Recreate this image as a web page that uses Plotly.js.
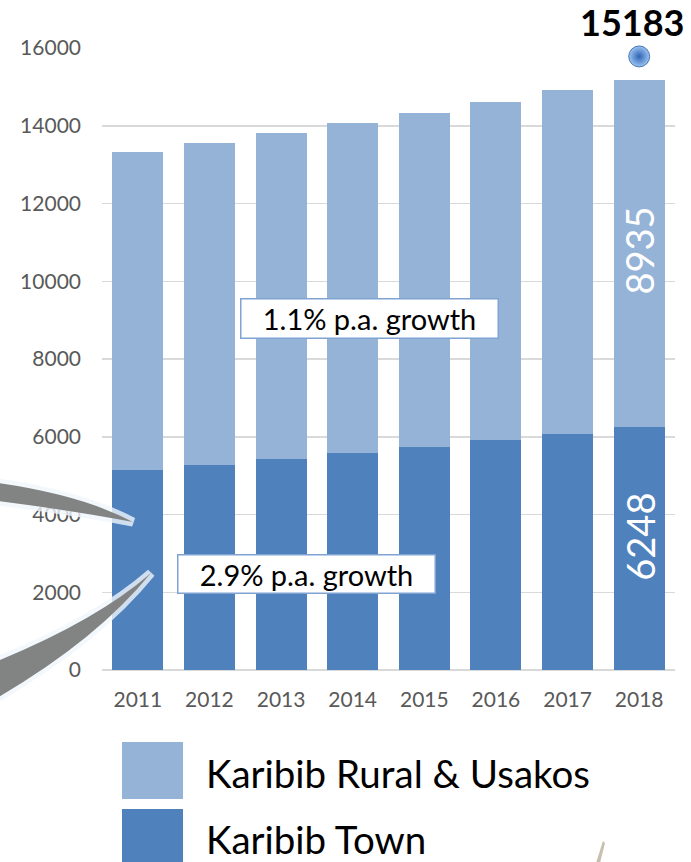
<!DOCTYPE html>
<html>
<head>
<meta charset="utf-8">
<script src="https://cdn.plot.ly/plotly-3.0.1.min.js"></script>
<style>html,body{margin:0;padding:0;background:#fff;}#chart{width:691px;height:862px;}</style>
</head>
<body>
<div id="chart"></div>
<script>
const years = ['2011', '2012', '2013', '2014', '2015', '2016', '2017', '2018'];
const townValues = [5144, 5272, 5418, 5580, 5735, 5914, 6078, 6248];
const ruralValues = [8182, 8293, 8404, 8495, 8602, 8706, 8833, 8935];
const seriesNames = ['Karibib Rural & Usakos', 'Karibib Town'];
const growthLabels = ['1.1% p.a. growth', '2.9% p.a. growth'];
const yTicks = [0, 2000, 4000, 6000, 8000, 10000, 12000, 14000, 16000];

const totals = townValues.map((v, i) => v + ruralValues[i]);
const last = years.length - 1;
const xIdx = years.map((y, i) => i);

const LIGHT = '#95b3d7', DARK = '#4f81bd';
const FONT = 'Lato, "Open Sans", sans-serif';

const ML = 102, MR = 16, MT = 48, MB = 192;
const W = 691 - ML - MR, H = 862 - MT - MB;
function P(x, y) { return ((x - ML) / W).toFixed(4) + ',' + ((MT + H - y) / H).toFixed(4); }
function px(x) { return (x - ML) / W; }
function py(y) { return (MT + H - y) / H; }

const traces = [
  {type: 'bar', name: seriesNames[1], x: xIdx, y: townValues, marker: {color: DARK}, showlegend: false},
  {type: 'bar', name: seriesNames[0], x: xIdx, y: ruralValues, marker: {color: LIGHT}, showlegend: false},
  {type: 'scatter', mode: 'markers', x: [xIdx[last]], y: [totals[last] + 600], cliponaxis: false, showlegend: false,
   marker: {size: 21, color: '#9cc4f2', gradient: {type: 'radial', color: '#2f63b3'}, line: {width: 0.8, color: '#2a5aa4'}}}
];

const wedgeUpper = 'M ' + P(-10, 482) + ' Q ' + P(80, 494) + ' ' + P(133, 522) + ' Q ' + P(70, 510) + ' ' + P(-10, 500) + ' Z';
const wedgeLower = 'M ' + P(-10, 664) + ' Q ' + P(95, 622) + ' ' + P(151, 573) + ' Q ' + P(95, 642) + ' ' + P(-10, 702) + ' Z';
const GLOW = 'rgba(240,246,253,0.8)';

const shapes = [
  {type: 'path', xref: 'paper', yref: 'paper', path: wedgeUpper, fillcolor: GLOW, line: {color: GLOW, width: 9}},
  {type: 'path', xref: 'paper', yref: 'paper', path: wedgeLower, fillcolor: GLOW, line: {color: GLOW, width: 9}},
  {type: 'path', xref: 'paper', yref: 'paper', path: wedgeUpper, fillcolor: 'rgba(120,120,120,0.92)', line: {width: 0}},
  {type: 'path', xref: 'paper', yref: 'paper', path: wedgeLower, fillcolor: 'rgba(120,120,120,0.92)', line: {width: 0}},
  {type: 'rect', xref: 'paper', yref: 'paper', x0: px(122), x1: px(183), y0: py(742), y1: py(799), fillcolor: LIGHT, line: {width: 0}},
  {type: 'rect', xref: 'paper', yref: 'paper', x0: px(122), x1: px(183), y0: py(809), y1: py(866), fillcolor: DARK, line: {width: 0}},
  {type: 'path', xref: 'paper', yref: 'paper', path: 'M ' + P(603, 841) + ' L ' + P(605, 843) + ' L ' + P(600, 863) + ' L ' + P(596, 863) + ' Z', fillcolor: '#c9bfae', line: {width: 0}}
];

const annotations = [
  {xref: 'paper', yref: 'paper', x: px(369), y: py(318), text: growthLabels[0], showarrow: false,
   font: {family: FONT, size: 29, color: '#000'}, bgcolor: '#fff', bordercolor: '#7fa3d3', borderwidth: 1.5,
   width: 254, height: 36, borderpad: 1, xanchor: 'center', yanchor: 'middle'},
  {xref: 'paper', yref: 'paper', x: px(306.5), y: py(573.5), text: growthLabels[1], showarrow: false,
   font: {family: FONT, size: 29, color: '#000'}, bgcolor: '#fff', bordercolor: '#7fa3d3', borderwidth: 1.5,
   width: 254, height: 35, borderpad: 1, xanchor: 'center', yanchor: 'middle'},
  {x: xIdx[last], y: townValues[last] + ruralValues[last] / 2, text: String(ruralValues[last]), showarrow: false, textangle: -90,
   font: {family: FONT, size: 38, color: '#fff'}, yshift: 3},
  {x: xIdx[last], y: townValues[last] / 2, text: String(townValues[last]), showarrow: false, textangle: -90,
   font: {family: FONT, size: 38, color: '#fff'}, yshift: 12},
  {x: xIdx[last], y: totals[last], text: '<b>' + totals[last] + '</b>', showarrow: false,
   font: {family: FONT, size: 36, color: '#000'}, yshift: 58, xshift: -7},
  {xref: 'paper', yref: 'paper', x: px(204), y: py(773), xanchor: 'left', yanchor: 'middle', text: seriesNames[0], showarrow: false,
   font: {family: FONT, size: 38.5, color: '#000'}},
  {xref: 'paper', yref: 'paper', x: px(204), y: py(839), xanchor: 'left', yanchor: 'middle', text: seriesNames[1], showarrow: false,
   font: {family: FONT, size: 38.5, color: '#000'}}
];

const layout = {
  width: 691, height: 862,
  margin: {l: ML, r: MR, t: MT, b: MB},
  paper_bgcolor: '#fff', plot_bgcolor: '#fff',
  barmode: 'stack', bargap: 0.288,
  showlegend: false,
  font: {family: FONT, color: '#595959'},
  xaxis: {type: 'linear', range: [-0.5, years.length - 0.5], tickmode: 'array', tickvals: xIdx, ticktext: years,
          tickfont: {family: FONT, size: 21, color: '#595959'}, ticks: '', ticklabelstandoff: 15,
          showgrid: false, showline: false, zeroline: false, fixedrange: true},
  yaxis: {range: [0, 16000], tickmode: 'array', tickvals: yTicks, ticktext: yTicks.map(String), tickfont: {family: FONT, size: 21, color: '#595959'},
          ticks: '', ticklabelstandoff: 20, showgrid: true, gridcolor: '#d9d9d9', gridwidth: 1.5,
          zeroline: true, zerolinecolor: '#d9d9d9', zerolinewidth: 1.5, showline: false, fixedrange: true},
  shapes: shapes,
  annotations: annotations
};

Plotly.newPlot('chart', traces, layout, {displayModeBar: false, staticPlot: true});
</script>
</body>
</html>
